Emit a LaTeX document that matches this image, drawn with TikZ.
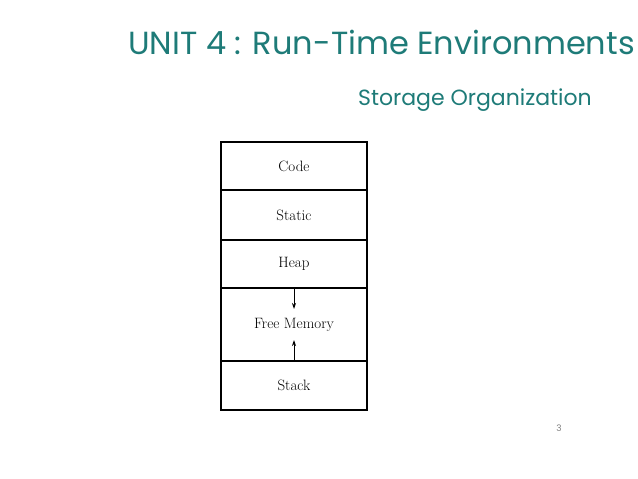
\documentclass[tikz,border=0pt]{standalone}
\usepackage{fontspec}
\usetikzlibrary{arrows.meta}
\newfontfamily\pop{Poppins}
\definecolor{teal1}{HTML}{1E7B78}
\begin{document}
\begin{tikzpicture}[x=1pt,y=-1pt,
  cell/.style={draw,line width=1.1pt,minimum width=146pt,inner sep=0pt,font=\fontsize{15}{17}\selectfont},
  tip/.style={-{Stealth[length=6pt,width=4pt]},line width=0.9pt}]
\useasboundingbox (0,0) rectangle (638,479);
\node[anchor=east,text=teal1,font=\pop\fontsize{32}{36}\selectfont,inner sep=0pt] (title) at (635,42) {UNIT 4 : Run-Time Environments};
\node[anchor=east,text=teal1,font=\pop\fontsize{22}{26}\selectfont,inner sep=0pt] (sub) at (592,100) {Storage Organization};
\node[cell,minimum height=48pt] (code) at (294,166) {Code};
\node[cell,minimum height=50pt] (static) at (294,215) {Static};
\node[cell,minimum height=48pt] (heap) at (294,264) {Heap};
\node[cell,minimum height=73pt] (free) at (294,324.5) {Free Memory};
\node[cell,minimum height=49pt] (stack) at (294,385.5) {Stack};
\coordinate (a1) at (294,309);
\coordinate (a2) at (294,340);
\draw[tip] (heap.south) -- (a1);
\draw[tip] (stack.north) -- (a2);
\node[text=gray,font=\pop\fontsize{9}{10}\selectfont] (pg) at (559,428) {3};
\end{tikzpicture}
\end{document}
